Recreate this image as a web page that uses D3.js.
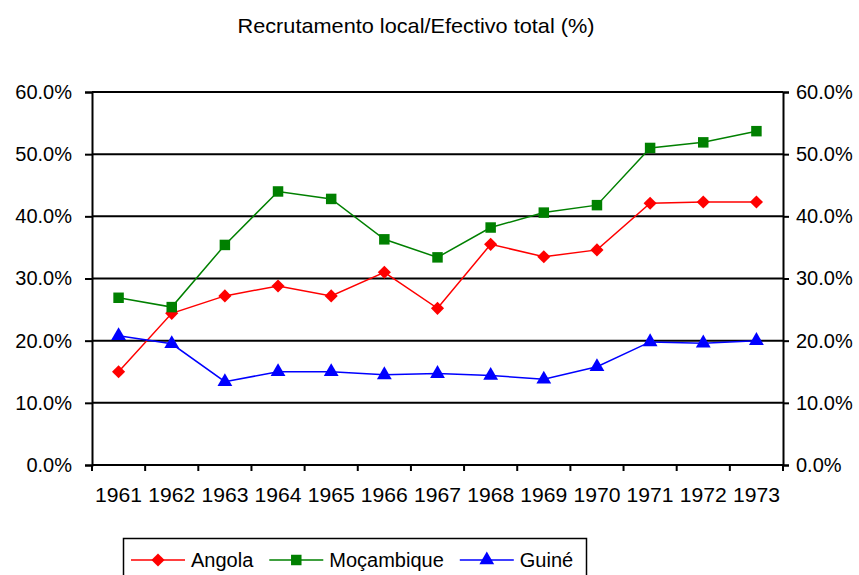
<!DOCTYPE html>
<html>
<head>
<meta charset="utf-8">
<script src="https://cdn.jsdelivr.net/npm/d3@7"></script>
<style>
  body { margin: 0; background: #fff; }
  text { font-family: "Liberation Sans", Arial, sans-serif; fill: #000; }
</style>
</head>
<body>
<svg id="chart" width="859" height="575"></svg>
<script>
// data (% local recruitment)
var years = ["1961","1962","1963","1964","1965","1966","1967","1968","1969","1970","1971","1972","1973"];
var angola     = [15.0, 24.4, 27.2, 28.8, 27.2, 31.0, 25.2, 35.5, 33.5, 34.6, 42.1, 42.3, 42.3];
var mocambique = [26.9, 25.4, 35.4, 44.0, 42.8, 36.3, 33.4, 38.2, 40.6, 41.8, 51.0, 51.9, 53.7];
var guine      = [20.8, 19.5, 13.4, 15.0, 15.0, 14.5, 14.7, 14.4, 13.8, 15.8, 19.8, 19.6, 20.0];
var yTicks = [0, 10, 20, 30, 40, 50, 60];
var seriesNames = ["Angola", "Moçambique", "Guiné"];
var seriesColors = ["#ff0000", "#008000", "#0000ff"];
var seriesSymbols = [d3.symbolDiamond2, d3.symbolSquare, d3.symbolTriangle];

var series = [angola, mocambique, guine].map(function(vals, i) {
    return { name: seriesNames[i], color: seriesColors[i], symbol: seriesSymbols[i],
             values: vals.map(function(v, j) { return { year: years[j], value: v }; }) };
});

function drawChart() {
    var svg = d3.select("#chart");
    var mLeft = 92, mRight = 783, mTop = 92, mBottom = 465;

    var x = d3.scaleBand().domain(years).range([mLeft, mRight]);
    var y = d3.scaleLinear().domain([0, 60]).range([mBottom, mTop]);

    // title
    svg.append("text")
        .attr("x", 416).attr("y", 33)
        .attr("text-anchor", "middle")
        .attr("font-size", 21)
        .attr("textLength", 357)
        .attr("lengthAdjust", "spacingAndGlyphs")
        .text("Recrutamento local/Efectivo total (%)");

    // gridlines
    svg.append("g").selectAll("line")
        .data(yTicks)
        .enter().append("line")
        .attr("x1", mLeft).attr("x2", mRight)
        .attr("y1", function(d) { return y(d); })
        .attr("y2", function(d) { return y(d); })
        .attr("stroke", "#000").attr("stroke-width", 2);

    var fmt = function(d) { return d.toFixed(1) + "%"; };

    // left axis
    var gl = svg.append("g")
        .attr("transform", "translate(" + mLeft + ",0)")
        .call(d3.axisLeft(y).tickValues(yTicks).tickFormat(fmt).tickSize(7).tickPadding(13));

    // right axis
    var gr = svg.append("g")
        .attr("transform", "translate(" + mRight + ",0)")
        .call(d3.axisRight(y).tickValues(yTicks).tickFormat(fmt).tickSize(6).tickPadding(7));

    // bottom axis, ticks between categories
    var gb = svg.append("g")
        .attr("transform", "translate(0," + mBottom + ")")
        .call(d3.axisBottom(x).tickSize(0).tickPadding(22));

    var edges = years.map(function(d) { return x(d); }).concat([mRight]);
    svg.append("g").selectAll("line")
        .data(edges)
        .enter().append("line")
        .attr("x1", function(d) { return d; }).attr("x2", function(d) { return d; })
        .attr("y1", mBottom).attr("y2", mBottom + 6)
        .attr("stroke", "#000").attr("stroke-width", 2);

    [gl, gr, gb].forEach(function(g) {
        g.select(".domain").attr("stroke", "#000").attr("stroke-width", 2);
        g.selectAll(".tick line").attr("stroke", "#000").attr("stroke-width", 2);
        g.selectAll(".tick text").attr("font-size", 20).attr("fill", "#000")
            .attr("font-family", "'Liberation Sans', Arial, sans-serif");
    });
    gb.select(".domain").remove();
    gb.selectAll(".tick text").attr("font-size", 21)
        .attr("textLength", 47).attr("lengthAdjust", "spacingAndGlyphs");
    svg.append("line").attr("x1", mLeft).attr("x2", mRight).attr("y1", mBottom).attr("y2", mBottom)
        .attr("stroke", "#000").attr("stroke-width", 2);

    // lines and markers
    var line = d3.line()
        .x(function(d) { return x(d.year) + x.bandwidth() / 2; })
        .y(function(d) { return y(d.value); });

    series.forEach(function(s) {
        svg.append("path")
            .datum(s.values)
            .attr("d", line)
            .attr("fill", "none")
            .attr("stroke", s.color)
            .attr("stroke-width", 1.5);

        svg.append("g").selectAll("path")
            .data(s.values)
            .enter().append("path")
            .attr("transform", function(d) {
                return "translate(" + (x(d.year) + x.bandwidth() / 2) + "," + y(d.value) + ")";
            })
            .attr("d", d3.symbol().type(s.symbol).size(s.symbol === d3.symbolTriangle ? 95 : 110))
            .attr("fill", s.color);
    });

    // legend
    var legend = svg.append("g");
    legend.append("rect")
        .attr("x", 123.5).attr("y", 538.5)
        .attr("width", 463).attr("height", 60)
        .attr("fill", "#fff").attr("stroke", "#000").attr("stroke-width", 1.5);

    var lx = 131, ly = 560;
    series.forEach(function(s) {
        var item = legend.append("g").attr("transform", "translate(" + lx + "," + ly + ")");
        item.append("line").attr("x1", 0).attr("x2", 54).attr("y1", 0).attr("y2", 0)
            .attr("stroke", s.color).attr("stroke-width", 1.5);
        item.append("path").attr("transform", "translate(27,0)")
            .attr("d", d3.symbol().type(s.symbol).size(s.symbol === d3.symbolTriangle ? 95 : 110))
            .attr("fill", s.color);
        var t = item.append("text").attr("x", 60).attr("y", 7)
            .attr("font-size", 20).text(s.name);
        lx += 60 + t.node().getComputedTextLength() + 16;
    });
}

drawChart();
</script>
</body>
</html>
